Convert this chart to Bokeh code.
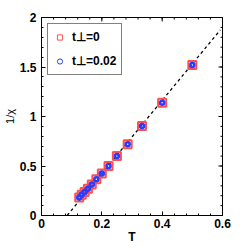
from bokeh.plotting import figure
from bokeh.models import Legend, LegendItem, Range1d, FixedTicker
from bokeh.embed import file_html
from bokeh.resources import INLINE

T_vals = [0.5, 0.4, 0.3333, 0.2857, 0.25, 0.2222, 0.2, 0.1818, 0.1667, 0.1538, 0.1429, 0.1333, 0.125]
inv_chi_t0 = [1.52, 1.14, 0.905, 0.72, 0.60, 0.50, 0.425, 0.365, 0.314, 0.27, 0.237, 0.21, 0.183]
inv_chi_t002 = [1.52, 1.14, 0.905, 0.72, 0.60, 0.50, 0.425, 0.365, 0.314, 0.27, 0.237, 0.21, 0.183]
fit_T = [0.085, 0.593]
fit_y = [0.0, 1.875]
x_ticks = [0, 0.2, 0.4, 0.6]
y_ticks = [0, 0.5, 1, 1.5, 2]
x_minor = [round(i * 0.04, 2) for i in range(16)]
y_minor = [round(i * 0.1, 1) for i in range(21)]
X0, X1, Y0, Y1 = 0.0, 0.6, 0.0, 2.0

FONT = "Liberation Sans"
W, H = 245, 249
BL, BR, BT, BB = 41, 23, 17, 34
FW, FH = W - BL - BR, H - BT - BB

RED = "#ff5050"
BLUE = "#2a3cff"
NAN = float("nan")

p = figure(width=W, height=H, output_backend="svg", toolbar_location=None,
           x_range=Range1d(X0, X1), y_range=Range1d(Y0, Y1),
           min_border_left=BL, min_border_right=BR, min_border_top=BT, min_border_bottom=BB)
p.xgrid.visible = False
p.ygrid.visible = False
p.outline_line_color = "black"
p.outline_line_width = 1

# top and right ticks (mirror of the bottom/left axes)
dx = (X1 - X0) / FW
dy = (Y1 - Y0) / FH
p.segment(x0=x_ticks, x1=x_ticks, y0=[Y1] * len(x_ticks), y1=[Y1 - 4 * dy] * len(x_ticks),
          line_color="black", line_width=1)
p.segment(x0=x_minor, x1=x_minor, y0=[Y1] * len(x_minor), y1=[Y1 - 2 * dy] * len(x_minor),
          line_color="black", line_width=1)
p.segment(x0=[X1] * len(y_ticks), x1=[X1 - 4 * dx] * len(y_ticks), y0=y_ticks, y1=y_ticks,
          line_color="black", line_width=1)
p.segment(x0=[X1] * len(y_minor), x1=[X1 - 2 * dx] * len(y_minor), y0=y_minor, y1=y_minor,
          line_color="black", line_width=1)

p.line(fit_T, fit_y, line_color="black", line_dash="3 3", line_width=1.3)
p.scatter(T_vals, inv_chi_t0, marker="square", size=8, fill_color=None,
          line_color=RED, line_width=2)
p.scatter(T_vals, inv_chi_t002, marker="circle", size=4, fill_color=None,
          line_color=BLUE, line_width=2.5)

# legend-only glyphs (smaller markers, as in the reference legend)
l1 = p.scatter(x=[NAN], y=[NAN], marker="square", size=6, fill_color=None,
               line_color=RED, line_width=1)
l2 = p.scatter(x=[NAN], y=[NAN], marker="circle", size=4, fill_color=None,
               line_color=BLUE, line_width=1)

for ax in (p.xaxis[0], p.yaxis[0]):
    ax.major_tick_in = 4
    ax.major_tick_out = 0
    ax.minor_tick_in = 2
    ax.minor_tick_out = 0
    ax.axis_line_color = "black"
    ax.major_label_text_font = FONT
    ax.major_label_text_font_style = "bold"
    ax.major_label_text_font_size = "12px"
    ax.major_label_text_color = "black"
    ax.axis_label_text_font = FONT
    ax.axis_label_text_font_size = "12px"
    ax.axis_label_text_color = "black"

p.xaxis.ticker = FixedTicker(ticks=x_ticks, minor_ticks=x_minor)
p.yaxis.ticker = FixedTicker(ticks=y_ticks, minor_ticks=y_minor)
p.xaxis.axis_label = "T"
p.yaxis.axis_label = "1/χ"
p.xaxis.major_label_overrides = {0: "0", 0.2: "0.2", 0.4: "0.4", 0.6: "0.6"}
p.yaxis.major_label_overrides = {0: "0", 0.5: "0.5", 1: "1", 1.5: "1.5", 2: "2"}
p.xaxis.axis_label_standoff = -1
p.yaxis.axis_label_standoff = 1
p.xaxis.major_label_standoff = 3
p.yaxis.major_label_standoff = 5
p.xaxis.axis_label_text_font_style = "bold"
p.yaxis.axis_label_text_font_style = "normal"
p.yaxis.axis_label_text_font_size = "11px"

legend = Legend(items=[LegendItem(label="t⊥=0", renderers=[l1]),
                       LegendItem(label="t⊥=0.02", renderers=[l2])],
                location="top_left")
legend.label_text_font = FONT
legend.label_text_font_style = "bold"
legend.label_text_font_size = "12px"
legend.label_text_color = "black"
legend.border_line_color = "black"
legend.border_line_width = 1.5
legend.margin = 6
legend.padding = 5
legend.spacing = 8
legend.label_height = 16
legend.glyph_height = 16
legend.glyph_width = 13
legend.label_standoff = 6
p.add_layout(legend)

open("out.html", "w").write(file_html(p, INLINE))
